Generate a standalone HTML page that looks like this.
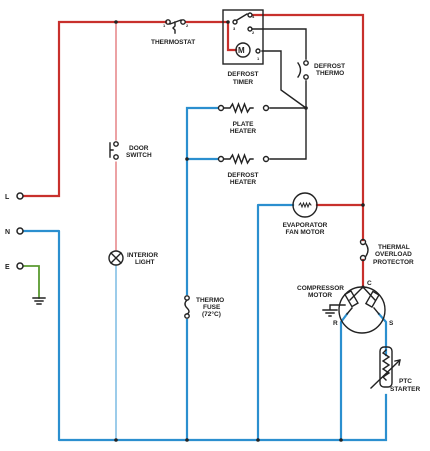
<!DOCTYPE html>
<html><head><style>body{margin:0;background:#fff}svg{display:block}text{font-family:"Liberation Sans",sans-serif;font-weight:bold;font-size:6.5px;fill:#222}</style></head>
<body>
<svg width="430" height="451" viewBox="0 0 430 451" xmlns="http://www.w3.org/2000/svg">
<g fill="none" stroke-linecap="square">
<path d="M24 196H59V22H166 M186 22H228 V50H236" stroke="#c8302c" stroke-width="2.2"/>
<path d="M253 15H363V240 M363 260V287 M317 205H363" stroke="#c8302c" stroke-width="2.2"/>
<path d="M116 22V140 M116 162V250" stroke="#d9454a" stroke-width="1"/>
<path d="M24 231H59V440H386 M187 108H217 M187 159H217 M187 108V294 M187 320V440 M293 205H258V440 M341 440V322L347 314 M386 440V395 M386 355V322L379 314" stroke="#2b8fcf" stroke-width="2.2" stroke-linejoin="round"/>
<path d="M116 266V440" stroke="#3a9ad6" stroke-width="1"/>
<path d="M24 266H39V298" stroke="#5a9a30" stroke-width="1.8"/>
<g stroke="#222" stroke-width="1.4">
<path d="M252 29H306V59 M306 81V159H270 M262 51H281V90L306 108 M270 108H306"/>
<rect x="223" y="10" width="40" height="54"/>
<path d="M237 20L247 14"/>
<circle cx="235" cy="22" r="2"/><circle cx="250" cy="15" r="2"/><circle cx="250" cy="29" r="2"/>
<circle cx="243" cy="50" r="7"/><circle cx="258" cy="51" r="2"/>
<circle cx="306" cy="63" r="2.2"/><circle cx="306" cy="77" r="2.2"/>
<path d="M298 63q5 7 0 14"/>
<circle cx="221" cy="108" r="2.5"/><circle cx="266" cy="108" r="2.5"/>
<path d="M224 108h6l2.5-4 3 8 3-8 3 8 3-8 3 8 2.5-4h3"/>
<circle cx="221" cy="159" r="2.5"/><circle cx="266" cy="159" r="2.5"/>
<path d="M224 159h6l2.5-4 3 8 3-8 3 8 3-8 3 8 2.5-4h3"/>
<circle cx="168" cy="22" r="2.2"/><circle cx="183" cy="22" r="2.2"/>
<path d="M170 24L181 20 M175 22v4l-2 2 2 2v3"/>
<circle cx="116" cy="144" r="2.2"/><circle cx="116" cy="157" r="2.2"/>
<path d="M110 143v14 M110 150h3"/>
<circle cx="116" cy="258" r="7"/><path d="M111 253l10 10 M121 253l-10 10"/>
<circle cx="187" cy="298" r="2.2"/><circle cx="187" cy="316" r="2.2"/>
<path d="M187 300q-4 4 0 8q4 4 0 6"/>
<circle cx="363" cy="242" r="2.5"/><circle cx="363" cy="258" r="2.5"/>
<path d="M366 244q4 6 0 12"/>
<circle cx="305" cy="205" r="12"/>
<path d="M299 205l1.5-2 1.5 4 1.5-4 1.5 4 1.5-4 1.5 4 1.5-4 1.5 2" stroke-width="1"/>
<circle cx="362" cy="310" r="23"/>
<path d="M363 287L350 300 M363 287l12 13 M347 314l5-6 M379 314l-5-6"/>
<rect x="348" y="292" width="7" height="14" transform="rotate(-30 351 299)"/>
<rect x="369" y="292" width="7" height="14" transform="rotate(30 372 299)"/>
<path d="M345 305H330V310 M323 310h14 M326 313h8 M329 316h2"/>
<path d="M33 298h12 M35 301h8 M37 304h4"/>
<rect x="380" y="347" width="12" height="40" rx="4"/>
<path d="M386 350l-3 3 6 4-6 4 6 4-6 4 6 4-6 4 3 3 M371 388l29-28 M400 360l-5 1 M400 360l-1 5"/>
</g>
<g fill="#fff" stroke="#222" stroke-width="1.5">
<circle cx="20" cy="196" r="3"/><circle cx="20" cy="231" r="3"/><circle cx="20" cy="266" r="3"/>
</g>
<g fill="#222" stroke="none">
<circle cx="116" cy="22" r="1.8"/><circle cx="228" cy="22" r="1.8"/><circle cx="187" cy="159" r="1.8"/><circle cx="306" cy="108" r="1.8"/><circle cx="363" cy="205" r="1.8"/>
<circle cx="116" cy="440" r="1.8"/><circle cx="187" cy="440" r="1.8"/><circle cx="258" cy="440" r="1.8"/><circle cx="341" cy="440" r="1.8"/><circle cx="363" cy="287" r="1.5"/>
</g>
</g>
<text x="238" y="53" style="font-size:8px">M</text>
<text x="233" y="30" style="font-size:4px">3</text><text x="252" y="18" style="font-size:4px">4</text><text x="252" y="34" style="font-size:4px">2</text><text x="257" y="60" style="font-size:4px">1</text>
<text x="163" y="27" style="font-size:4px">1</text><text x="186" y="27" style="font-size:4px">2</text>
<text x="151" y="44">THERMOSTAT</text>
<text x="243" y="76" text-anchor="middle">DEFROST</text><text x="243" y="84" text-anchor="middle">TIMER</text>
<text x="314" y="68">DEFROST</text><text x="316" y="75">THERMO</text>
<text x="243" y="126" text-anchor="middle">PLATE</text><text x="243" y="133" text-anchor="middle">HEATER</text>
<text x="243" y="177" text-anchor="middle">DEFROST</text><text x="243" y="184" text-anchor="middle">HEATER</text>
<text x="129" y="150">DOOR</text><text x="126" y="157">SWITCH</text>
<text x="127" y="257">INTERIOR</text><text x="135" y="264">LIGHT</text>
<text x="196" y="302">THERMO</text><text x="203" y="309">FUSE</text><text x="202" y="316">(72°C)</text>
<text x="305" y="227" text-anchor="middle">EVAPORATOR</text><text x="305" y="234" text-anchor="middle">FAN MOTOR</text>
<text x="378" y="249">THERMAL</text><text x="375" y="256">OVERLOAD</text><text x="373" y="264">PROTECTOR</text>
<text x="297" y="290">COMPRESSOR</text><text x="308" y="297">MOTOR</text>
<text x="367" y="285">C</text><text x="333" y="325">R</text><text x="389" y="325">S</text>
<text x="399" y="383">PTC</text><text x="390" y="391">STARTER</text>
<text x="5" y="199" style="font-size:7px">L</text><text x="5" y="234" style="font-size:7px">N</text><text x="5" y="269" style="font-size:7px">E</text>
</svg>
</body></html>
